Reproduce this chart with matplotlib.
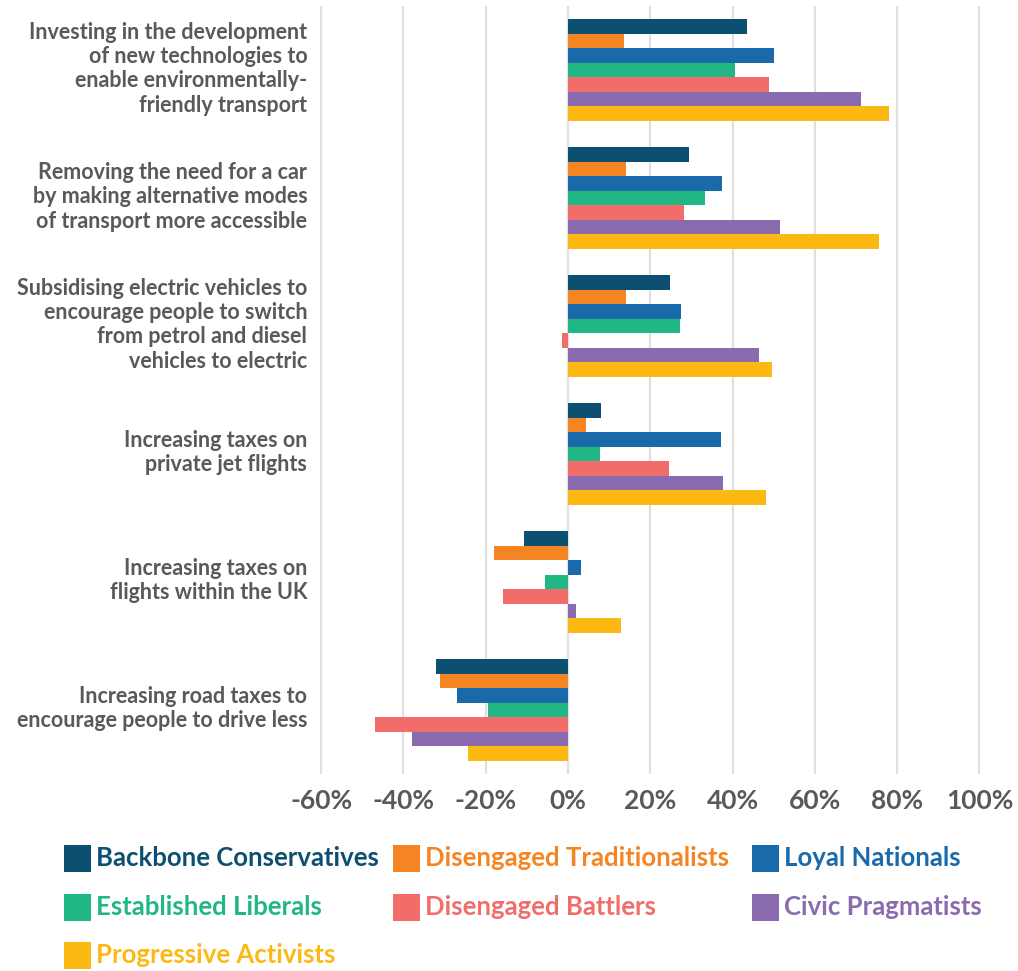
import matplotlib
matplotlib.use("Agg")
import matplotlib.pyplot as plt
import matplotlib.transforms as mtransforms
from matplotlib.patches import Rectangle
import numpy as np

# Policy statements (top to bottom)
categories = [
    "Investing in the development\nof new technologies to\nenable environmentally-\nfriendly transport",
    "Removing the need for a car\nby making alternative modes\nof transport more accessible",
    "Subsidising electric vehicles to\nencourage people to switch\nfrom petrol and diesel\nvehicles to electric",
    "Increasing taxes on\nprivate jet flights",
    "Increasing taxes on\nflights within the UK",
    "Increasing road taxes to\nencourage people to drive less",
]

segments = [
    "Backbone Conservatives",
    "Disengaged Traditionalists",
    "Loyal Nationals",
    "Established Liberals",
    "Disengaged Battlers",
    "Civic Pragmatists",
    "Progressive Activists",
]

colors = ["#0c4f71", "#f58423", "#1a69ab", "#21b784", "#f26d6a", "#8b6baf", "#fdb913"]

# Net support (%) per segment, one list per segment, in category order
backbone_conservatives = [43.5, 29.3, 24.8, 8.0, -10.8, -32.2]
disengaged_traditionalists = [13.5, 14.2, 14.0, 4.4, -17.9, -31.0]
loyal_nationals = [50.0, 37.4, 27.4, 37.2, 3.2, -27.0]
established_liberals = [40.6, 33.2, 27.1, 7.8, -5.7, -19.5]
disengaged_battlers = [48.8, 28.3, -1.5, 24.6, -15.9, -46.9]
civic_pragmatists = [71.3, 51.6, 46.4, 37.7, 1.9, -37.9]
progressive_activists = [77.9, 75.6, 49.6, 48.2, 12.9, -24.2]

series = [
    backbone_conservatives,
    disengaged_traditionalists,
    loyal_nationals,
    established_liberals,
    disengaged_battlers,
    civic_pragmatists,
    progressive_activists,
]

x_ticks = [-60, -40, -20, 0, 20, 40, 60, 80, 100]
x_ticklabels = ["-60%", "-40%", "-20%", "0%", "20%", "40%", "60%", "80%", "100%"]

FONT = ["Lato", "DejaVu Sans"]
GREY = "#595959"

W, H = 1018, 971
fig = plt.figure(figsize=(W / 100, H / 100), dpi=100)

# axes placed in pixel terms
ax_left, ax_right, ax_top, ax_bottom = 317, 317 + 666.6, 6, 774
ax = fig.add_axes([ax_left / W, (H - ax_bottom) / H,
                   (ax_right - ax_left) / W, (ax_bottom - ax_top) / H])

bar_h = 14.5 / 128
y = np.arange(len(categories))
n = len(series)
for i, (vals, col) in enumerate(zip(series, colors)):
    ax.barh(y + (i - (n - 1) / 2) * bar_h, vals, height=bar_h, color=col,
            edgecolor="none", zorder=3)

ax.set_xlim(-61, 101)
ax.set_ylim(len(categories) - 0.5, -0.5)

ax.set_xticks(x_ticks)
ax.set_xticklabels(x_ticklabels, fontsize=19, fontweight="bold", color=GREY,
                   family=FONT)
ax.set_yticks(y)
ax.set_yticklabels(categories, fontsize=15.5, fontweight="bold", color=GREY,
                   family=FONT, linespacing=1.2)
ax.tick_params(axis="x", length=0, pad=11)
ax.tick_params(axis="y", length=0, pad=7)

# nudge category labels slightly upward
shift = mtransforms.ScaledTranslation(0, 5 / 100, fig.dpi_scale_trans)
for lbl in ax.get_yticklabels():
    lbl.set_transform(lbl.get_transform() + shift)

ax.grid(axis="x", color="#e0e0e0", linewidth=1.6, zorder=0)
ax.set_axisbelow(True)
for s in ax.spines.values():
    s.set_visible(False)

# legend in three columns below the plot
col_x = [64, 393, 752]
row_y = [858, 907, 955]
sq = 27
for k, (name, col) in enumerate(zip(segments, colors)):
    cx = col_x[k % 3]
    cy = row_y[k // 3]
    fig.add_artist(Rectangle(((cx) / W, (H - cy - sq / 2) / H), sq / W, sq / H,
                             transform=fig.transFigure, facecolor=col,
                             edgecolor="none"))
    fig.text((cx + sq + 5) / W, (H - cy) / H, name, color=col, fontsize=18.5,
             fontweight="bold", family=FONT, ha="left", va="center")

fig.savefig("out.png", dpi=100)
